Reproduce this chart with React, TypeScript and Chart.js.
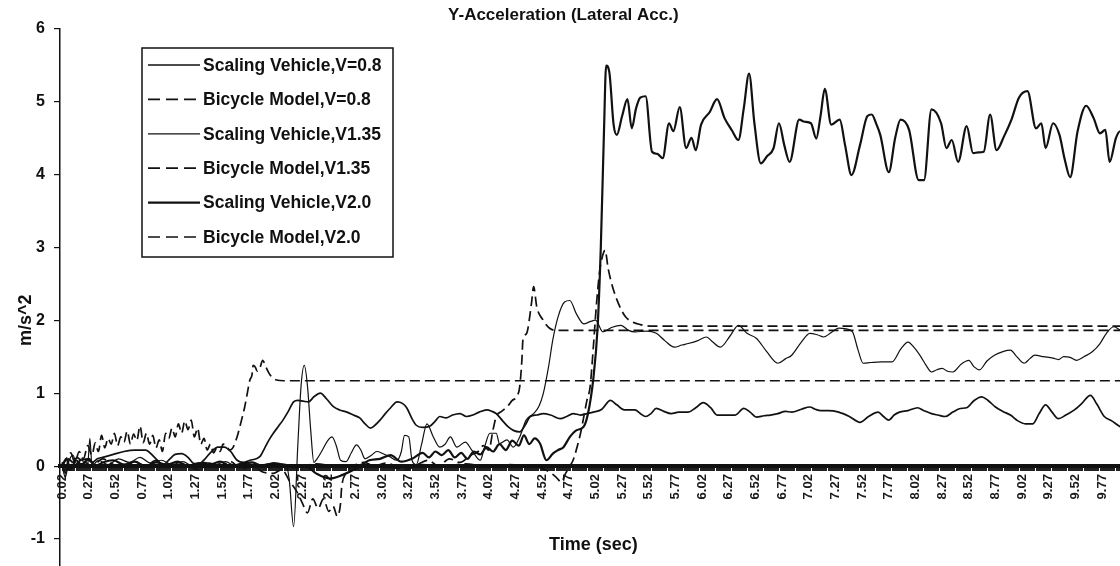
import React, { useEffect, useRef } from 'react';
import { Chart, registerables } from 'chart.js';

Chart.register(...registerables);

const W = 1168;
const H = 612;
const FONT = '"Liberation Sans", Arial, sans-serif';
const INK = '#111111';

const chartTitle = 'Y-Acceleration (Lateral Acc.)';
const xTitle = 'Time (sec)';
const yTitle = 'm/s^2';

const seriesLabels = [
  'Scaling Vehicle,V=0.8',
  'Bicycle Model,V=0.8',
  'Scaling Vehicle,V1.35',
  'Bicycle Model,V1.35',
  'Scaling Vehicle,V2.0',
  'Bicycle Model,V2.0',
];

const xTickLabels = [
  '0.02', '0.27', '0.52', '0.77', '1.02', '1.27', '1.52', '1.77', '2.02', '2.27',
  '2.52', '2.77', '3.02', '3.27', '3.52', '3.77', '4.02', '4.27', '4.52', '4.77',
  '5.02', '5.27', '5.52', '5.77', '6.02', '6.27', '6.52', '6.77', '7.02', '7.27',
  '7.52', '7.77', '8.02', '8.27', '8.52', '8.77', '9.02', '9.27', '9.52', '9.77',
];

// [time (s), lateral acceleration (m/s^2)]
const sv08 = [
  [0.02, 0.05], [0.05, -0.1], [0.08, 0.1], [0.12, 0.05], [0.16, 0.12], [0.2, 0.08], [0.25, 0.1], [0.3, 0.05],
  [0.35, 0.1], [0.4, 0.12], [0.5, 0.16], [0.6, 0.2], [0.7, 0.22], [0.8, 0.22], [0.9, 0.1], [0.97, 0.02],
  [1.03, 0.1], [1.08, 0.16], [1.14, 0.17], [1.2, 0.12], [1.25, 0.04], [1.3, 0.03], [1.36, 0.1], [1.42, 0.2],
  [1.48, 0.26], [1.54, 0.26], [1.6, 0.2], [1.66, 0.08], [1.72, 0.05], [1.78, 0.08], [1.84, 0.1], [1.88, 0.14],
  [1.92, 0.25], [1.96, 0.36], [2.0, 0.45], [2.05, 0.55], [2.09, 0.63], [2.14, 0.75], [2.19, 0.88], [2.23, 0.9],
  [2.28, 0.89], [2.33, 0.88], [2.38, 0.95], [2.44, 1.0], [2.5, 0.92], [2.56, 0.82], [2.62, 0.77], [2.69, 0.74],
  [2.75, 0.7], [2.81, 0.66], [2.86, 0.58], [2.91, 0.52], [2.96, 0.57], [3.0, 0.63], [3.05, 0.72], [3.1, 0.8],
  [3.16, 0.88], [3.21, 0.86], [3.25, 0.8], [3.3, 0.65], [3.34, 0.56], [3.4, 0.53], [3.47, 0.55], [3.52, 0.62],
  [3.56, 0.68], [3.62, 0.66], [3.68, 0.7], [3.75, 0.72], [3.81, 0.68], [3.87, 0.7], [3.93, 0.74], [4.0, 0.77],
  [4.05, 0.75], [4.09, 0.72], [4.15, 0.62], [4.2, 0.54], [4.25, 0.49], [4.31, 0.47], [4.36, 0.56], [4.41, 0.68],
  [4.47, 0.7], [4.53, 0.72], [4.6, 0.7], [4.69, 0.65], [4.75, 0.68], [4.81, 0.72], [4.88, 0.7], [4.94, 0.72],
  [5.0, 0.74], [5.08, 0.78], [5.16, 0.9], [5.22, 0.84], [5.29, 0.77], [5.34, 0.77], [5.39, 0.77], [5.44, 0.72],
  [5.49, 0.68], [5.54, 0.72], [5.59, 0.79], [5.66, 0.75], [5.73, 0.72], [5.8, 0.74], [5.89, 0.74], [5.96, 0.8],
  [6.03, 0.87], [6.1, 0.8], [6.16, 0.7], [6.25, 0.7], [6.33, 0.7], [6.41, 0.79], [6.47, 0.74], [6.53, 0.67],
  [6.6, 0.69], [6.66, 0.7], [6.73, 0.72], [6.8, 0.75], [6.86, 0.74], [6.95, 0.78], [7.03, 0.81], [7.08, 0.78],
  [7.13, 0.76], [7.2, 0.76], [7.3, 0.74], [7.4, 0.68], [7.5, 0.6], [7.58, 0.68], [7.67, 0.74], [7.72, 0.68],
  [7.77, 0.63], [7.82, 0.7], [7.87, 0.74], [7.95, 0.76], [8.04, 0.8], [8.1, 0.76], [8.17, 0.72], [8.23, 0.7],
  [8.3, 0.68], [8.37, 0.74], [8.44, 0.79], [8.5, 0.8], [8.57, 0.9], [8.64, 0.95], [8.7, 0.9], [8.77, 0.81],
  [8.84, 0.75], [8.91, 0.7], [8.98, 0.62], [9.05, 0.58], [9.12, 0.58], [9.18, 0.72], [9.24, 0.84], [9.3, 0.74],
  [9.36, 0.65], [9.43, 0.7], [9.51, 0.77], [9.58, 0.86], [9.66, 0.97], [9.72, 0.85], [9.79, 0.68], [9.86, 0.62],
  [9.94, 0.54], [10.0, 0.5],
];

const bm08 = [
  [0.02, 0.0], [0.06, 0.1], [0.1, 0.18], [0.14, 0.05], [0.18, 0.2], [0.22, 0.1], [0.26, 0.28], [0.3, 0.15],
  [0.33, 0.32], [0.36, 0.2], [0.39, 0.42], [0.42, 0.25], [0.45, 0.38], [0.48, 0.3], [0.51, 0.45], [0.54, 0.28],
  [0.57, 0.4], [0.6, 0.33], [0.63, 0.48], [0.66, 0.3], [0.69, 0.44], [0.72, 0.35], [0.75, 0.55], [0.78, 0.32],
  [0.81, 0.45], [0.84, 0.3], [0.87, 0.42], [0.9, 0.25], [0.93, 0.36], [0.96, 0.2], [0.99, 0.45], [1.02, 0.38],
  [1.05, 0.52], [1.08, 0.4], [1.11, 0.58], [1.14, 0.45], [1.17, 0.62], [1.2, 0.5], [1.23, 0.63], [1.26, 0.4],
  [1.29, 0.52], [1.32, 0.3], [1.35, 0.38], [1.38, 0.22], [1.41, 0.3], [1.44, 0.18], [1.47, 0.25], [1.5, 0.2],
  [1.53, 0.3], [1.56, 0.28], [1.59, 0.22], [1.62, 0.25], [1.66, 0.4], [1.7, 0.62], [1.73, 0.8], [1.75, 0.95],
  [1.78, 1.18], [1.8, 1.25], [1.81, 1.38], [1.83, 1.36], [1.85, 1.3], [1.875, 1.35], [1.9, 1.45], [1.91, 1.43],
  [1.94, 1.33], [1.97, 1.25], [2.03, 1.18], [2.1, 1.17], [10.0, 1.17],
];

const sv135 = [
  [0.02, 0.0], [0.05, -0.15], [0.08, 0.05], [0.12, 0.15], [0.16, 0.02], [0.2, 0.1], [0.24, 0.0], [0.26, 0.02],
  [0.28, 0.38], [0.3, 0.0], [0.36, 0.08], [0.45, 0.02], [0.55, 0.1], [0.65, 0.05], [0.75, 0.12], [0.85, 0.04],
  [0.95, 0.08], [1.05, 0.02], [1.15, 0.06], [1.25, 0.0], [1.35, 0.05], [1.45, 0.02], [1.55, 0.06], [1.65, 0.0],
  [1.75, 0.04], [1.85, 0.0], [1.95, 0.03], [2.05, 0.0], [2.12, 0.02], [2.15, -0.2], [2.19, -0.83], [2.23, 0.3],
  [2.26, 1.1], [2.29, 1.38], [2.32, 1.1], [2.35, 0.5], [2.38, 0.05], [2.41, 0.1], [2.46, 0.22], [2.51, 0.35],
  [2.55, 0.4], [2.59, 0.28], [2.63, 0.08], [2.68, 0.06], [2.73, 0.18], [2.78, 0.29], [2.82, 0.22], [2.86, 0.1],
  [2.92, 0.15], [2.97, 0.2], [3.03, 0.17], [3.09, 0.13], [3.16, 0.08], [3.2, 0.2], [3.23, 0.42], [3.27, 0.4],
  [3.3, 0.08], [3.34, 0.02], [3.39, 0.3], [3.44, 0.58], [3.5, 0.4], [3.56, 0.26], [3.61, 0.3], [3.66, 0.4],
  [3.72, 0.26], [3.8, 0.33], [3.86, 0.22], [3.94, 0.08], [3.98, 0.26], [4.03, 0.45], [4.09, 0.45], [4.12, 0.31],
  [4.19, 0.36], [4.25, 0.26], [4.31, 0.4], [4.37, 0.63], [4.44, 0.72], [4.49, 0.82], [4.53, 0.99], [4.58, 1.36],
  [4.62, 1.73], [4.67, 2.05], [4.73, 2.25], [4.78, 2.27], [4.84, 2.09], [4.91, 1.95], [4.97, 1.98], [5.02, 2.0],
  [5.09, 1.84], [5.17, 1.9], [5.26, 1.93], [5.33, 1.86], [5.39, 1.84], [5.5, 1.85], [5.59, 1.82], [5.67, 1.72],
  [5.76, 1.63], [5.83, 1.66], [5.89, 1.68], [5.98, 1.72], [6.06, 1.77], [6.12, 1.7], [6.19, 1.63], [6.28, 1.78],
  [6.36, 1.93], [6.44, 1.82], [6.53, 1.75], [6.62, 1.58], [6.73, 1.41], [6.8, 1.47], [6.86, 1.52], [6.95, 1.7],
  [7.03, 1.82], [7.1, 1.8], [7.16, 1.77], [7.23, 1.83], [7.3, 1.89], [7.37, 1.88], [7.43, 1.84], [7.48, 1.6],
  [7.53, 1.41], [7.6, 1.42], [7.7, 1.43], [7.8, 1.43], [7.88, 1.6], [7.95, 1.7], [8.01, 1.62], [8.07, 1.5],
  [8.12, 1.38], [8.17, 1.29], [8.22, 1.32], [8.27, 1.34], [8.32, 1.3], [8.37, 1.29], [8.45, 1.4], [8.52, 1.45],
  [8.57, 1.36], [8.62, 1.32], [8.69, 1.44], [8.76, 1.52], [8.84, 1.57], [8.91, 1.59], [8.97, 1.5], [9.04, 1.41],
  [9.09, 1.47], [9.14, 1.52], [9.22, 1.5], [9.31, 1.48], [9.36, 1.46], [9.41, 1.5], [9.47, 1.49], [9.53, 1.45],
  [9.6, 1.5], [9.68, 1.57], [9.75, 1.68], [9.81, 1.82], [9.88, 1.91], [9.94, 1.86], [10.0, 1.8],
];

const bm135 = [
  [0.02, 0.05], [0.1, -0.05], [0.2, 0.08], [0.3, 0.0], [0.4, 0.1], [0.5, 0.02], [0.6, -0.03], [0.7, 0.06],
  [0.8, 0.0], [0.9, 0.08], [1.0, -0.02], [1.1, 0.05], [1.2, 0.0], [1.3, -0.05], [1.4, 0.04], [1.5, 0.0],
  [1.6, 0.06], [1.7, -0.04], [1.8, 0.0], [1.9, -0.08], [2.0, -0.1], [2.08, -0.05], [2.15, -0.2], [2.22, -0.35],
  [2.27, -0.5], [2.32, -0.64], [2.37, -0.45], [2.42, -0.58], [2.47, -0.45], [2.52, -0.62], [2.56, -0.55], [2.6, -0.69],
  [2.63, -0.51], [2.64, -0.3], [2.68, -0.1], [2.75, 0.0], [2.85, 0.05], [2.95, 0.0], [3.05, 0.04], [3.15, 0.0],
  [3.25, -0.05], [3.35, 0.02], [3.45, 0.08], [3.55, 0.0], [3.65, 0.1], [3.75, 0.05], [3.85, 0.15], [3.92, 0.2],
  [3.97, 0.28], [4.02, 0.22], [4.06, 0.5], [4.09, 0.68], [4.14, 0.75], [4.19, 0.81], [4.24, 0.9], [4.28, 0.95],
  [4.31, 1.09], [4.33, 1.45], [4.34, 1.73], [4.375, 1.82], [4.42, 2.23], [4.44, 2.46], [4.47, 2.18], [4.53, 2.0],
  [4.59, 1.89], [4.66, 1.86], [4.75, 1.86], [10.0, 1.86],
];

const sv20 = [
  [0.02, 0.0], [0.06, 0.1], [0.1, -0.05], [0.15, 0.08], [0.2, 0.02], [0.27, 0.1], [0.33, 0.0], [0.4, 0.05],
  [0.5, 0.08], [0.6, 0.02], [0.7, 0.06], [0.8, 0.0], [0.9, 0.05], [1.0, 0.02], [1.1, 0.06], [1.2, 0.0],
  [1.3, 0.04], [1.4, 0.02], [1.5, 0.06], [1.6, 0.0], [1.7, 0.03], [1.8, 0.05], [1.9, 0.0], [2.0, 0.04],
  [2.1, 0.02], [2.2, 0.0], [2.3, 0.0], [2.4, -0.1], [2.53, -0.17], [2.65, -0.12], [2.78, -0.03], [2.9, 0.08],
  [3.0, 0.1], [3.1, 0.15], [3.2, 0.06], [3.3, 0.1], [3.4, 0.18], [3.46, 0.12], [3.52, 0.2], [3.58, 0.15],
  [3.64, 0.22], [3.7, 0.12], [3.76, 0.18], [3.82, 0.1], [3.88, 0.2], [3.94, 0.16], [4.0, 0.26], [4.06, 0.2],
  [4.12, 0.3], [4.18, 0.22], [4.24, 0.35], [4.3, 0.28], [4.35, 0.42], [4.4, 0.3], [4.45, 0.38], [4.5, 0.31],
  [4.56, 0.08], [4.62, 0.17], [4.67, 0.22], [4.72, 0.26], [4.78, 0.4], [4.84, 0.49], [4.91, 0.54], [4.95, 0.72],
  [5.0, 1.2], [5.04, 1.9], [5.07, 3.0], [5.1, 4.6], [5.12, 5.49], [5.15, 5.4], [5.19, 4.68], [5.22, 4.54],
  [5.27, 4.8], [5.32, 5.03], [5.36, 4.63], [5.4, 4.9], [5.44, 5.05], [5.49, 5.07], [5.55, 4.31], [5.6, 4.28],
  [5.65, 4.22], [5.71, 4.7], [5.75, 4.59], [5.81, 4.92], [5.87, 4.36], [5.92, 4.5], [5.96, 4.33], [6.01, 4.68],
  [6.09, 4.85], [6.16, 5.03], [6.23, 4.77], [6.3, 4.6], [6.36, 4.47], [6.41, 4.9], [6.46, 5.38], [6.51, 4.7],
  [6.57, 4.15], [6.63, 4.25], [6.69, 4.36], [6.74, 4.7], [6.79, 4.4], [6.84, 4.17], [6.93, 4.75], [6.98, 4.72],
  [7.04, 4.7], [7.09, 4.49], [7.13, 4.8], [7.17, 5.17], [7.23, 4.68], [7.31, 4.75], [7.36, 4.4], [7.42, 3.99],
  [7.5, 4.4], [7.57, 4.8], [7.61, 4.82], [7.65, 4.7], [7.69, 4.54], [7.77, 4.03], [7.83, 4.5], [7.88, 4.75],
  [7.96, 4.61], [8.05, 3.92], [8.1, 3.92], [8.17, 4.89], [8.26, 4.7], [8.31, 4.36], [8.36, 4.47], [8.42, 4.17],
  [8.5, 4.66], [8.56, 4.29], [8.61, 4.3], [8.66, 4.31], [8.72, 4.82], [8.78, 4.33], [8.85, 4.52], [8.92, 4.75],
  [8.99, 5.05], [9.07, 5.14], [9.15, 4.63], [9.2, 4.7], [9.24, 4.36], [9.31, 4.7], [9.37, 4.54], [9.42, 4.2],
  [9.47, 3.96], [9.54, 4.59], [9.62, 4.94], [9.69, 4.77], [9.75, 4.56], [9.8, 4.61], [9.84, 4.17], [9.9, 4.5],
  [9.94, 4.59], [10.0, 4.55],
];

const bm20 = [
  [0.02, 0.0], [0.2, 0.03], [0.4, -0.02], [0.6, 0.02], [0.8, 0.0], [1.0, 0.03], [1.2, 0.0], [1.4, -0.02],
  [1.6, 0.02], [1.8, 0.0], [2.0, 0.02], [2.2, -0.02], [2.4, 0.03], [2.6, 0.0], [2.8, 0.02], [3.0, 0.0],
  [3.2, -0.03], [3.4, 0.02], [3.6, 0.0], [3.8, 0.03], [4.0, 0.0], [4.2, 0.02], [4.4, 0.0], [4.55, -0.05],
  [4.65, -0.15], [4.7, -0.22], [4.74, -0.1], [4.78, 0.0], [4.81, 0.08], [4.84, 0.22], [4.88, 0.45], [4.94, 0.9],
  [4.97, 1.09], [5.0, 1.63], [5.03, 2.23], [5.06, 2.68], [5.09, 2.9], [5.11, 2.96], [5.14, 2.7], [5.19, 2.41],
  [5.25, 2.18], [5.3, 2.05], [5.36, 1.98], [5.44, 1.94], [5.55, 1.92], [10.0, 1.92],
];

const seriesData = [sv08, bm08, sv135, bm135, sv20, bm20];
const seriesWidths = [1.7, 1.7, 1.2, 1.7, 2.2, 1.7];
const seriesDashed = [false, true, false, true, false, true];

const xTickSet = new Set(xTickLabels);
// one tick mark per 0.01 s sample, as on the original category axis
const xTickValues = Array.from({ length: 998 }, (_, i) => (i + 2) / 100);

const legendBoxPlugin = {
  id: 'legendBox',
  afterDraw(chart: any) {
    const ctx = chart.ctx as CanvasRenderingContext2D;
    const bx = 142, by = 48, bw = 251, bh = 209;
    ctx.save();
    ctx.fillStyle = '#ffffff';
    ctx.fillRect(bx, by, bw, bh);
    ctx.setLineDash([]);
    ctx.lineWidth = 1.5;
    ctx.strokeStyle = INK;
    ctx.strokeRect(bx, by, bw, bh);
    ctx.font = `bold 17.5px ${FONT}`;
    ctx.textBaseline = 'middle';
    ctx.textAlign = 'left';
    chart.data.datasets.forEach((ds: any, i: number) => {
      const y = by + 17 + i * 34.4;
      ctx.beginPath();
      ctx.setLineDash(ds.borderDash && ds.borderDash.length ? [12, 6] : []);
      ctx.lineWidth = ds.borderWidth;
      ctx.strokeStyle = INK;
      ctx.moveTo(bx + 6, y);
      ctx.lineTo(bx + 58, y);
      ctx.stroke();
      ctx.setLineDash([]);
      ctx.fillStyle = INK;
      ctx.fillText(ds.label, bx + 61, y + 1);
    });
    ctx.restore();
  },
};

export default function App() {
  const ref = useRef<HTMLCanvasElement>(null);

  useEffect(() => {
    document.body.style.margin = '0';
    const canvas = ref.current;
    if (!canvas) return;
    const chart = new Chart(canvas, {
      type: 'line',
      data: {
        datasets: seriesData.map((s, i) => ({
          label: seriesLabels[i],
          data: s.map(([x, y]) => ({ x, y })),
          borderColor: INK,
          backgroundColor: INK,
          borderWidth: seriesWidths[i],
          borderDash: seriesDashed[i] ? [10, 5] : [],
          pointRadius: 0,
          cubicInterpolationMode: 'monotone',
          fill: false,
        })),
      },
      options: {
        responsive: false,
        animation: false,
        devicePixelRatio: 1,
        layout: { padding: { left: 0, top: 0, right: W - (60 + 1066.67), bottom: 0 } },
        plugins: {
          legend: { display: false },
          tooltip: { enabled: false },
          title: {
            display: true,
            text: chartTitle,
            color: INK,
            font: { family: FONT, size: 17, weight: 'bold' },
            padding: { top: 5, bottom: 3 },
          },
        },
        scales: {
          x: {
            type: 'linear',
            min: 0,
            max: 10,
            position: { y: 0 } as any,
            afterBuildTicks: (scale: any) => {
              scale.ticks = xTickValues.map((v) => ({ value: v }));
            },
            afterFit: (scale: any) => {
              scale.height = 90;
              scale.paddingLeft = 0;
              scale.paddingRight = 0;
            },
            ticks: {
              autoSkip: false,
              minRotation: 90,
              maxRotation: 90,
              padding: 5,
              color: '#1a1a1a',
              font: { family: FONT, size: 13, weight: 'bold' },
              callback: (v: any) => {
                const s = Number(v).toFixed(2);
                return xTickSet.has(s) ? s : '';
              },
            },
            grid: {
              drawOnChartArea: false,
              drawTicks: true,
              tickLength: 3,
              color: '#222222',
              lineWidth: 1,
            },
            border: { display: true, color: INK, width: 4 },
            title: {
              display: true,
              text: xTitle,
              color: INK,
              font: { family: FONT, size: 18, weight: 'bold' },
              padding: 0,
            },
          },
          y: {
            type: 'linear',
            min: -2,
            max: 6,
            afterFit: (scale: any) => {
              scale.width = 60;
              scale.paddingTop = 0;
              scale.paddingBottom = 0;
            },
            ticks: {
              stepSize: 1,
              padding: 9,
              color: INK,
              font: { family: FONT, size: 16, weight: 'bold' },
            },
            grid: {
              drawOnChartArea: false,
              drawTicks: true,
              tickLength: 6,
              color: INK,
              lineWidth: 1.2,
            },
            border: { display: true, color: INK, width: 1.5 },
            title: {
              display: true,
              text: yTitle,
              color: INK,
              font: { family: FONT, size: 18, weight: 'bold' },
              padding: { top: 15, bottom: 0 },
            },
          },
        },
      },
      plugins: [legendBoxPlugin],
    } as any);
    return () => chart.destroy();
  }, []);

  return (
    <div
      style={{
        position: 'fixed',
        left: 0,
        top: 0,
        width: 1120,
        height: 566,
        overflow: 'hidden',
        background: '#ffffff',
      }}
    >
      <canvas ref={ref} width={W} height={H} style={{ display: 'block', width: W, height: H }} />
    </div>
  );
}
